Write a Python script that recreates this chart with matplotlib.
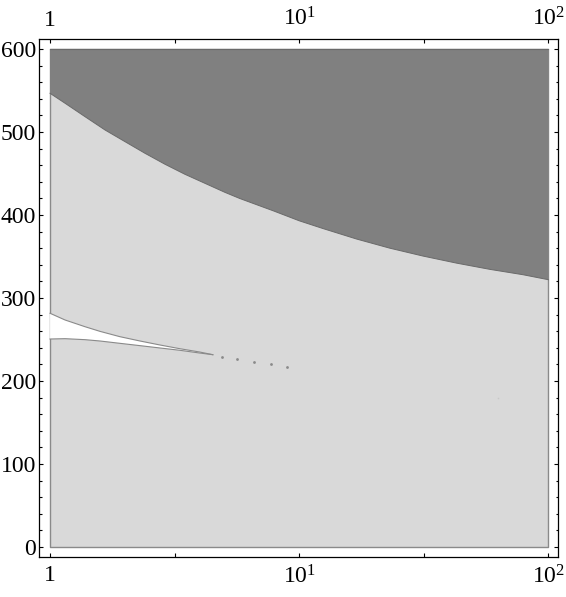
import numpy as np
import matplotlib
matplotlib.use("Agg")
import matplotlib.pyplot as plt
from matplotlib.ticker import FixedLocator, NullFormatter

plt.rcParams['font.family'] = ['Liberation Serif', 'DejaVu Serif']
plt.rcParams['mathtext.fontset'] = 'custom'
plt.rcParams['mathtext.rm'] = 'Liberation Serif'
plt.rcParams['mathtext.it'] = 'Liberation Serif:italic'
plt.rcParams['font.size'] = 17

# boundary of the dark (upper) region
bound_x = [1, 1.149, 1.382, 1.662, 2.0, 2.405, 2.893, 3.479, 4.18, 5.03, 5.78, 7.87,
           10.0, 12.5, 17.0, 23.1, 31.4, 42.8, 58.2, 79.2, 100]
bound_y = [546.6, 534.6, 518.4, 502.4, 488.3, 474.3, 461.1, 449, 438.2, 427.3, 419.8, 405,
           393, 383.5, 371, 360, 350.5, 342, 334.5, 328, 322]

# white sliver between two curves
sliver_x = [1, 1.149, 1.382, 1.587, 1.907, 2.296, 2.76, 3.32, 3.99, 4.5]
sliver_hi = [281.6, 273.5, 265.4, 259.8, 253.4, 248.2, 243.4, 238.9, 234.9, 231.7]
sliver_lo = [250.6, 251, 249.8, 248.2, 245.4, 242.6, 239.8, 237, 233.7, 231.7]

# dotted trail after the sliver closes
trail_x = [4.88, 5.64, 6.60, 7.68, 8.95]
trail_y = [228.9, 226.1, 222.9, 220.1, 216.9]

x_range = [1, 100]
y_bottom = 0
y_top = 600

fig = plt.figure(figsize=(5.66, 5.97), dpi=100)
ax = fig.add_axes([39/566, 1-557/597, (558-39)/566, (557-39)/597])

ax.fill_between(x_range, y_bottom, y_top, facecolor='#d9d9d9', edgecolor='#8a8a8a', linewidth=1.0)
ax.fill_between(bound_x, bound_y, y_top, facecolor='#808080', edgecolor='none')
ax.plot(bound_x, bound_y, color='#6a6a6a', lw=0.7)
ax.plot(x_range, [y_top, y_top], color='#6a6a6a', lw=0.8)
ax.fill_between(sliver_x, sliver_lo, sliver_hi, facecolor='white', edgecolor='none')
ax.plot(sliver_x, sliver_hi, color='#8a8a8a', lw=0.8)
ax.plot(sliver_x, sliver_lo, color='#8a8a8a', lw=0.8)
ax.plot(trail_x, trail_y, ls='none', marker='o', ms=2, color='#8a8a8a', mec='none')
ax.plot([62.7], [179.5], ls='none', marker='o', ms=1.2, color='#c8c8c8', mec='none')

ax.set_xscale('log')
ax.set_xlim(0.903, 109.2)
ax.set_ylim(-12, 612)

ax.xaxis.set_major_locator(FixedLocator([1, 10, 100]))
ax.set_xticklabels(['1', '$10^{1}$', '$10^{2}$'])
ax.xaxis.set_minor_locator(FixedLocator([10**0.5, 10**1.5]))
ax.xaxis.set_minor_formatter(NullFormatter())
ax.yaxis.set_major_locator(FixedLocator(np.arange(0, 601, 100)))
ax.yaxis.set_minor_locator(FixedLocator(np.arange(0, 601, 20)))

ax.tick_params(which='both', direction='in', top=True, right=True,
               labeltop=True, labelright=False, width=0.8)
ax.tick_params(axis='x', which='both', length=3, pad=6)
ax.tick_params(axis='y', which='major', length=3, pad=2)
ax.tick_params(axis='y', which='minor', length=1.8)

for s in ax.spines.values():
    s.set_linewidth(0.9)

fig.savefig('out.png', dpi=100)
